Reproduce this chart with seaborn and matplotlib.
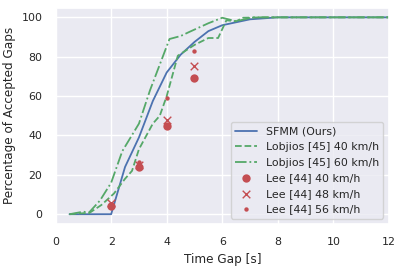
import numpy as np
import pandas as pd
import matplotlib
matplotlib.use("Agg")
import matplotlib.pyplot as plt
import seaborn as sns

# SFMM (Ours)
sfmm_t = [0.5, 1.0, 1.5, 2.0, 2.5, 3.0, 3.5, 4.0, 4.5, 5.0, 5.5, 6.0, 6.5, 7.0, 7.5, 8.0,
          8.5, 9.0, 9.5, 10.0, 10.5, 11.0, 11.5, 12.0]
sfmm_p = [0, 0, 0, 0, 24, 39, 57.5, 72, 81, 87.5, 93, 96, 97.5, 99, 99.5, 100,
          100, 100, 100, 100, 100, 100, 100, 100]

# Lobjios [45] 40 km/h
lob40_t = [0.5, 1.0, 1.2, 1.65, 2.1, 2.5, 2.75, 3.0, 3.5, 3.75, 4.0, 4.4, 5.0, 5.5, 5.85,
           6.15, 6.5, 6.75, 7.5, 12.0]
lob40_p = [0, 0.5, 0.5, 4.7, 10.5, 18, 22, 33, 46, 50, 60, 80.5, 86, 89.5, 89.5,
           98.5, 98, 99.8, 100, 100]

# Lobjios [45] 60 km/h
lob60_t = [0.5, 1.0, 1.2, 1.6, 2.0, 2.4, 2.7, 3.0, 3.4, 3.75, 4.1, 4.5, 4.8, 5.5, 6.0,
           6.5, 7.1, 12.0]
lob60_p = [0, 1.3, 0.8, 7, 16, 32, 39, 46, 63, 76, 89, 90.5, 92.5, 97, 99.8,
           98, 100, 100]

# Lee [44]
lee_t = [2, 3, 4, 5]
lee40 = [4.4, 23.8, 44.7, 69.4]
lee48 = [5.9, 25.0, 48.1, 75.5]
lee56 = [5.0, 26.7, 58.8, 82.8]

sns.set_theme(style="darkgrid", font_scale=0.72)
blue, green, red = "#4c72b0", "#55a868", "#c44e52"

fig, ax = plt.subplots(figsize=(4.03, 2.68), dpi=100)
fig.subplots_adjust(left=0.138, right=0.965, top=0.972, bottom=0.164)

lw = 1.3
sns.lineplot(x=sfmm_t, y=sfmm_p, ax=ax, color=blue, linewidth=lw, label="SFMM (Ours)")
sns.lineplot(x=lob40_t, y=lob40_p, ax=ax, color=green, linewidth=lw, linestyle="--",
             label="Lobjios [45] 40 km/h")
sns.lineplot(x=lob60_t, y=lob60_p, ax=ax, color=green, linewidth=lw, linestyle="-.",
             label="Lobjios [45] 60 km/h")
sns.scatterplot(x=lee_t, y=lee40, ax=ax, color=red, marker="o", s=36,
                linewidth=0, label="Lee [44] 40 km/h", zorder=3)
sns.scatterplot(x=lee_t, y=lee48, ax=ax, color=red, marker="x", s=30,
                linewidth=1, label="Lee [44] 48 km/h", zorder=3)
sns.scatterplot(x=lee_t, y=lee56, ax=ax, color=red, marker="o", s=10,
                linewidth=0, label="Lee [44] 56 km/h", zorder=3)

ax.set_xlim(0, 12)
ax.set_ylim(-5, 105)
ax.set_xticks([0, 2, 4, 6, 8, 10, 12])
ax.set_yticks([0, 20, 40, 60, 80, 100])
ax.set_xlabel("Time Gap [s]")
ax.set_ylabel("Percentage of Accepted Gaps")
ax.legend(loc="lower right")

fig.savefig("out.png", dpi=100)
